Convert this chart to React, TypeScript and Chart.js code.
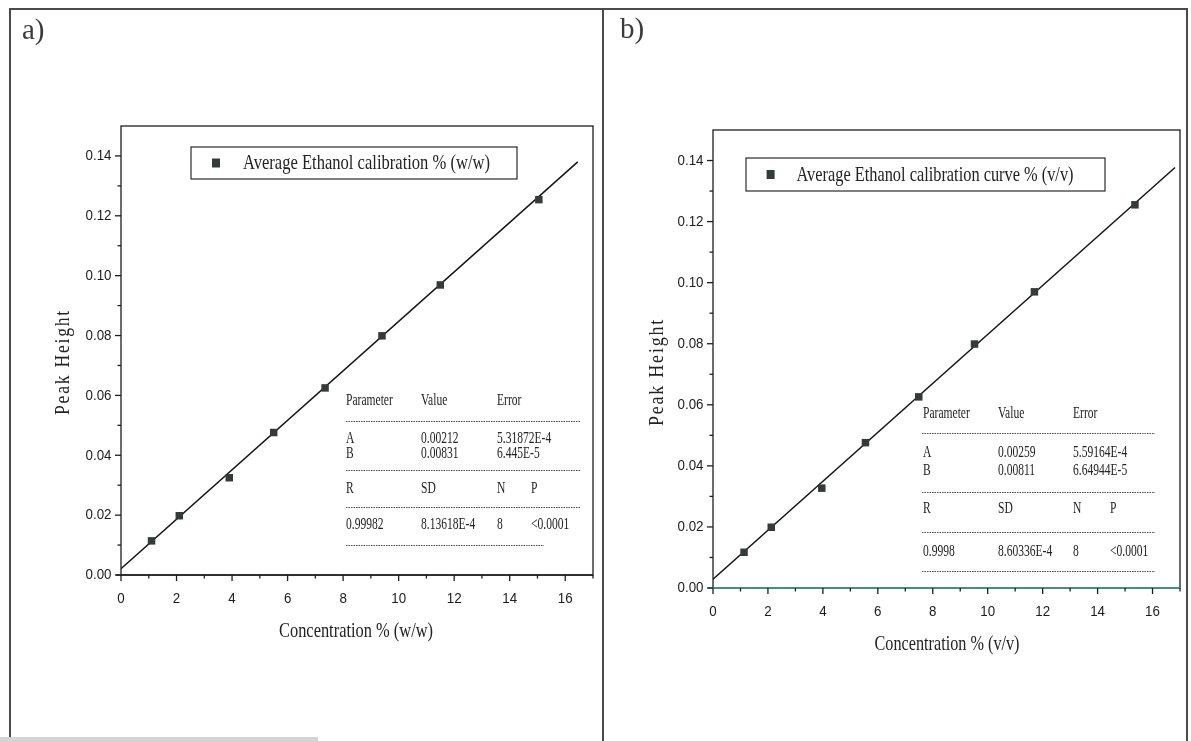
import React, { useEffect, useRef } from "react";
import { Chart, registerables } from "chart.js";

Chart.register(...registerables);

// ---------- data ----------
const X_MAJOR = [0, 2, 4, 6, 8, 10, 12, 14, 16];
const X_TICK_LABELS = ["0", "2", "4", "6", "8", "10", "12", "14", "16"];
const X_MINOR = [1, 3, 5, 7, 9, 11, 13, 15, 17];
const Y_MAJOR = [0, 0.02, 0.04, 0.06, 0.08, 0.1, 0.12, 0.14];
const Y_TICK_LABELS = ["0.00", "0.02", "0.04", "0.06", "0.08", "0.10", "0.12", "0.14"];
const Y_MINOR = [0.01, 0.03, 0.05, 0.07, 0.09, 0.11, 0.13];
const X_RANGE = [0, 17];
const Y_RANGE = [0, 0.15];

// panel a: % (w/w)
const CONC_WW = [1.1, 2.1, 3.9, 5.5, 7.35, 9.4, 11.5, 15.05];
const PEAK_WW = [0.0114, 0.0198, 0.0325, 0.0476, 0.0625, 0.0799, 0.0969, 0.1254];
const FIT_WW_X = [0, 16.45];
const FIT_WW_Y = [0.0021, 0.138];
const TABLE_WW_HEAD = ["Parameter", "Value", "Error"];
const TABLE_WW_A = ["A", "0.00212", "5.31872E-4"];
const TABLE_WW_B = ["B", "0.00831", "6.445E-5"];
const TABLE_WW_STAT_HEAD = ["R", "SD", "N", "P"];
const TABLE_WW_STAT = ["0.99982", "8.13618E-4", "8", "<0.0001"];

// panel b: % (v/v)
const CONC_VV = [1.13, 2.12, 3.96, 5.55, 7.49, 9.52, 11.7, 15.36];
const PEAK_VV = [0.0117, 0.0199, 0.0327, 0.0476, 0.0626, 0.0799, 0.097, 0.1255];
const FIT_VV_X = [0, 16.82];
const FIT_VV_Y = [0.0029, 0.1377];
const TABLE_VV_HEAD = ["Parameter", "Value", "Error"];
const TABLE_VV_A = ["A", "0.00259", "5.59164E-4"];
const TABLE_VV_B = ["B", "0.00811", "6.64944E-5"];
const TABLE_VV_STAT_HEAD = ["R", "SD", "N", "P"];
const TABLE_VV_STAT = ["0.9998", "8.60336E-4", "8", "<0.0001"];

// ---------- styles ----------
const SERIF = "'Liberation Serif', 'Times New Roman', serif";
const SANS = "'Liberation Sans', Arial, sans-serif";
const TEXT = "#232323";
const MARK = "#343c3a";

type Panel = {
  letter: string;
  letterPos: [number, number];
  canvasLeft: number;
  canvasWidth: number;
  padding: { top: number; right: number; bottom: number; left: number };
  yScaleWidth: number;
  xs: number[];
  ys: number[];
  fitX: number[];
  fitY: number[];
  legendText: string;
  legend: { x: number; y: number; w: number; h: number; markerX: number; textX: number; textW: number };
  yTitle: string;
  yTitlePos: [number, number, number];
  xTitle: string;
  xTitlePos: [number, number, number];
  table: { head: string[]; a: string[]; b: string[]; statHead: string[]; stat: string[] };
  cols: number[];
  rows: number[];
  dashX: [number, number];
  lastDashEnd: number;
  bottomAxisColor: string;
};

const PANELS: Panel[] = [
  {
    letter: "a)",
    letterPos: [22, 39],
    canvasLeft: 0,
    canvasWidth: 602,
    padding: { top: 126, right: 9, bottom: 106, left: 0 },
    yScaleWidth: 121,
    xs: CONC_WW,
    ys: PEAK_WW,
    fitX: FIT_WW_X,
    fitY: FIT_WW_Y,
    legendText: "Average Ethanol calibration % (w/w)",
    legend: { x: 191, y: 147, w: 326, h: 32, markerX: 216, textX: 243, textW: 247 },
    yTitle: "Peak Height",
    yTitlePos: [64, 362, 106],
    xTitle: "Concentration % (w/w)",
    xTitlePos: [356, 631, 154],
    table: { head: TABLE_WW_HEAD, a: TABLE_WW_A, b: TABLE_WW_B, statHead: TABLE_WW_STAT_HEAD, stat: TABLE_WW_STAT },
    cols: [346, 421, 497, 531],
    rows: [401, 421, 439, 454, 470, 489, 507, 525, 545],
    dashX: [346, 581],
    lastDashEnd: 544,
    bottomAxisColor: "#1e1e1e",
  },
  {
    letter: "b)",
    letterPos: [18, 38],
    canvasLeft: 602,
    canvasWidth: 589,
    padding: { top: 130, right: 11, bottom: 93, left: 0 },
    yScaleWidth: 111,
    xs: CONC_VV,
    ys: PEAK_VV,
    fitX: FIT_VV_X,
    fitY: FIT_VV_Y,
    legendText: "Average Ethanol calibration curve % (v/v)",
    legend: { x: 144, y: 158, w: 359, h: 33, markerX: 168.6, textX: 194.5, textW: 277 },
    yTitle: "Peak Height",
    yTitlePos: [56, 372, 108],
    xTitle: "Concentration % (v/v)",
    xTitlePos: [345, 644, 145],
    table: { head: TABLE_VV_HEAD, a: TABLE_VV_A, b: TABLE_VV_B, statHead: TABLE_VV_STAT_HEAD, stat: TABLE_VV_STAT },
    cols: [321, 396, 471, 508],
    rows: [414, 433, 453, 471, 492, 509, 532, 552, 571],
    dashX: [320, 553],
    lastDashEnd: 553,
    bottomAxisColor: "#3f9a86",
  },
];

function drawText(
  ctx: CanvasRenderingContext2D,
  text: string,
  x: number,
  y: number,
  font: string,
  opts: { align?: "left" | "center" | "right"; scaleX?: number; fitWidth?: number; color?: string; spacing?: string } = {}
) {
  ctx.save();
  ctx.font = font;
  ctx.fillStyle = opts.color ?? TEXT;
  ctx.textBaseline = "middle";
  ctx.textAlign = "left";
  if (opts.spacing) (ctx as any).letterSpacing = opts.spacing;
  const w = ctx.measureText(text).width;
  const sx = opts.fitWidth ? opts.fitWidth / w : opts.scaleX ?? 1;
  const dw = w * sx;
  const x0 = opts.align === "center" ? x - dw / 2 : opts.align === "right" ? x - dw : x;
  ctx.translate(x0, y);
  ctx.scale(sx, 1);
  ctx.fillText(text, 0, 0);
  ctx.restore();
}

function makeDecor(p: Panel) {
  return {
    id: "panelDecor",
    afterDraw(chart: any) {
      const ctx: CanvasRenderingContext2D = chart.ctx;
      const { left, right, top, bottom } = chart.chartArea;
      const xs = chart.scales.x;
      const ys = chart.scales.y;
      ctx.save();

      // plot frame
      ctx.strokeStyle = "#1e1e1e";
      ctx.lineWidth = 1.3;
      ctx.strokeRect(left, top, right - left, bottom - top);
      ctx.strokeStyle = p.bottomAxisColor;
      ctx.lineWidth = 1.6;
      ctx.beginPath();
      ctx.moveTo(left - 5, bottom);
      ctx.lineTo(right, bottom);
      ctx.stroke();

      // ticks
      ctx.strokeStyle = "#1e1e1e";
      ctx.lineWidth = 1.3;
      const tick = (x1: number, y1: number, x2: number, y2: number) => {
        ctx.beginPath();
        ctx.moveTo(x1, y1);
        ctx.lineTo(x2, y2);
        ctx.stroke();
      };
      X_MAJOR.forEach((v) => {
        const px = xs.getPixelForValue(v);
        tick(px, bottom, px, bottom + 6);
      });
      X_MINOR.forEach((v) => {
        const px = xs.getPixelForValue(v);
        tick(px, bottom, px, bottom + 3.5);
      });
      Y_MAJOR.forEach((v) => {
        const py = ys.getPixelForValue(v);
        tick(left, py, left - 6, py);
      });
      Y_MINOR.forEach((v) => {
        const py = ys.getPixelForValue(v);
        tick(left, py, left - 3.5, py);
      });

      // tick labels
      const tickFont = `15.5px ${SANS}`;
      X_MAJOR.forEach((v, i) => {
        drawText(ctx, X_TICK_LABELS[i], xs.getPixelForValue(v), bottom + 23.5, tickFont, {
          align: "center",
          scaleX: 0.86,
          color: "#1c1c1c",
        });
      });
      Y_MAJOR.forEach((v, i) => {
        drawText(ctx, Y_TICK_LABELS[i], left - 9.5, ys.getPixelForValue(v), tickFont, {
          align: "right",
          scaleX: 0.86,
          color: "#1c1c1c",
        });
      });

      // axis titles
      drawText(ctx, p.xTitle, p.xTitlePos[0], p.xTitlePos[1], `21px ${SERIF}`, { align: "center", fitWidth: p.xTitlePos[2] });
      ctx.save();
      ctx.translate(p.yTitlePos[0], p.yTitlePos[1]);
      ctx.rotate(-Math.PI / 2);
      drawText(ctx, p.yTitle, 0, 0, `20px ${SERIF}`, { align: "center", fitWidth: p.yTitlePos[2], spacing: "2px" });
      ctx.restore();

      // legend
      const L = p.legend;
      ctx.strokeStyle = "#2a2a2a";
      ctx.lineWidth = 1.2;
      ctx.strokeRect(L.x, L.y, L.w, L.h);
      ctx.fillStyle = MARK;
      ctx.fillRect(L.markerX - 4, L.y + L.h / 2 - 4.5, 8, 9);
      drawText(ctx, p.legendText, L.textX, L.y + L.h / 2 + 0.5, `21px ${SERIF}`, { fitWidth: L.textW });

      // fit table
      const tFont = `16.5px ${SERIF}`;
      const sx = 0.7;
      const [c1, c2, c3, c4] = p.cols;
      const R = p.rows;
      const row = (cells: string[], y: number, cols: number[]) =>
        cells.forEach((t, i) => drawText(ctx, t, cols[i], y, tFont, { scaleX: sx }));
      row(p.table.head, R[0], [c1, c2, c3]);
      row(p.table.a, R[2], [c1, c2, c3]);
      row(p.table.b, R[3], [c1, c2, c3]);
      row(p.table.statHead, R[5], [c1, c2, c3, c4]);
      row(p.table.stat, R[7], [c1, c2, c3, c4]);
      ctx.strokeStyle = "#4a4a4a";
      ctx.lineWidth = 1;
      ctx.setLineDash([1.5, 1]);
      [R[1], R[4], R[6]].forEach((y) => {
        ctx.beginPath();
        ctx.moveTo(p.dashX[0], y + 0.5);
        ctx.lineTo(p.dashX[1], y + 0.5);
        ctx.stroke();
      });
      ctx.beginPath();
      ctx.moveTo(p.dashX[0], R[8] + 0.5);
      ctx.lineTo(p.lastDashEnd, R[8] + 0.5);
      ctx.stroke();
      ctx.setLineDash([]);

      // panel letter
      ctx.font = `29px ${SERIF}`;
      ctx.fillStyle = "#3a3a3a";
      ctx.textBaseline = "alphabetic";
      ctx.textAlign = "left";
      ctx.fillText(p.letter, p.letterPos[0], p.letterPos[1]);

      ctx.restore();
    },
  };
}

function PanelChart({ p }: { p: Panel }) {
  const ref = useRef<HTMLCanvasElement | null>(null);
  useEffect(() => {
    if (!ref.current) return;
    const chart = new Chart(ref.current, {
      type: "scatter",
      data: {
        datasets: [
          {
            label: p.legendText,
            data: p.xs.map((x, i) => ({ x, y: p.ys[i] })),
            pointStyle: "rect",
            pointRadius: 5.3,
            pointBackgroundColor: MARK,
            pointBorderColor: MARK,
            pointBorderWidth: 0,
            showLine: false,
            order: 0,
          },
          {
            label: "Linear fit",
            data: p.fitX.map((x, i) => ({ x, y: p.fitY[i] })),
            showLine: true,
            pointRadius: 0,
            borderColor: "#151515",
            borderWidth: 1.5,
            fill: false,
            order: 1,
          },
        ],
      } as any,
      options: {
        responsive: false,
        animation: false,
        devicePixelRatio: 1,
        events: [],
        layout: { padding: p.padding },
        plugins: { legend: { display: false }, tooltip: { enabled: false } },
        scales: {
          x: {
            type: "linear",
            min: X_RANGE[0],
            max: X_RANGE[1],
            grid: { display: false, drawTicks: false },
            border: { display: false },
            ticks: { display: false },
            afterBuildTicks: (s: any) => {
              s.ticks = X_MAJOR.map((v) => ({ value: v }));
            },
            afterFit: (s: any) => {
              s.height = 60;
            },
          },
          y: {
            type: "linear",
            min: Y_RANGE[0],
            max: Y_RANGE[1],
            grid: { display: false, drawTicks: false },
            border: { display: false },
            ticks: { display: false },
            afterBuildTicks: (s: any) => {
              s.ticks = Y_MAJOR.map((v) => ({ value: v }));
            },
            afterFit: (s: any) => {
              s.width = p.yScaleWidth;
            },
          },
        },
      } as any,
      plugins: [makeDecor(p)],
    });
    return () => chart.destroy();
  }, [p]);
  return (
    <canvas
      ref={ref}
      width={p.canvasWidth}
      height={741}
      style={{ position: "absolute", left: p.canvasLeft, top: 0, width: p.canvasWidth, height: 741 }}
    />
  );
}

const line = (left: number, top: number, width: number, height: number, color = "#4a4a4a") => (
  <div style={{ position: "absolute", left, top, width, height, background: color }} />
);

export default function App() {
  return (
    <div
      style={{
        position: "absolute",
        left: 0,
        top: 0,
        width: 1191,
        height: 741,
        background: "#ffffff",
        overflow: "hidden",
      }}
    >
      {line(9, 8, 1179, 1.5)}
      {line(9, 8, 1.5, 733)}
      {line(602, 8, 1.5, 733)}
      {line(1186, 8, 1.5, 733)}
      {line(0, 737, 318, 4, "#d4d4d4")}
      {PANELS.map((p) => (
        <PanelChart key={p.letter} p={p} />
      ))}
    </div>
  );
}
